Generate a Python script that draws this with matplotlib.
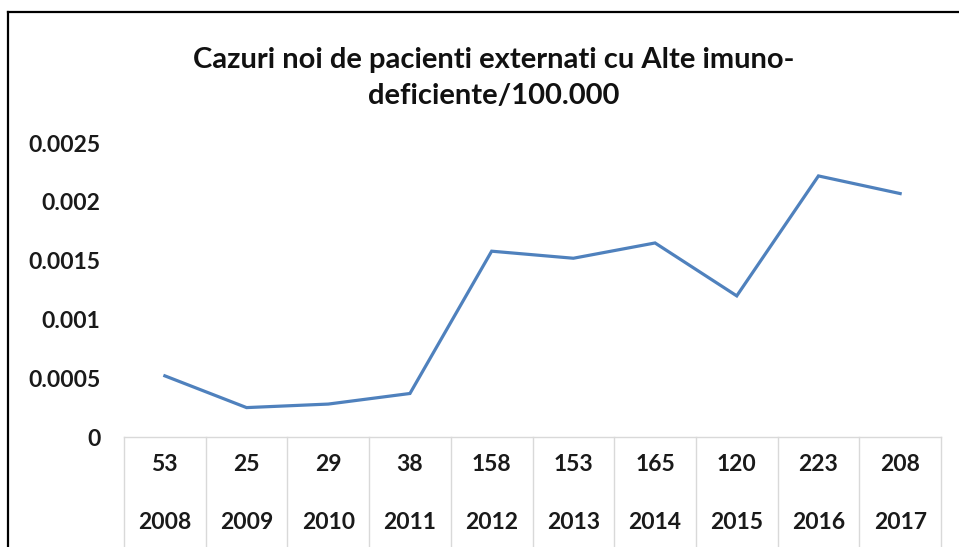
import matplotlib
matplotlib.use("Agg")
import matplotlib.pyplot as plt
from matplotlib.lines import Line2D
import matplotlib.transforms as mtransforms

years = ["2008", "2009", "2010", "2011", "2012", "2013", "2014", "2015", "2016", "2017"]
counts = ["53", "25", "29", "38", "158", "153", "165", "120", "223", "208"]
rates = [0.00052, 0.00025, 0.00028, 0.00037, 0.00158, 0.00152, 0.00165, 0.00120, 0.00222, 0.00207]
yticks = [0, 0.0005, 0.001, 0.0015, 0.002, 0.0025]
yticklabels = ["0", "0.0005", "0.001", "0.0015", "0.002", "0.0025"]
title = "Cazuri noi de pacienti externati cu Alte imuno-\ndeficiente/100.000"

plt.rcParams['font.family'] = ['Lato', 'DejaVu Sans']

W, H = 959, 547
fig = plt.figure(figsize=(W / 100, H / 100), dpi=100)
ax = fig.add_axes([124 / W, 1 - 437 / H, (941 - 124) / W, (437 - 143) / H])

x = list(range(len(years)))
ax.plot(x, rates, color="#4F81BD", lw=2.3, solid_joinstyle="miter")
ax.set_xlim(-0.5, len(years) - 0.5)
ax.set_ylim(0, 0.0025)
ax.set_yticks(yticks)
ax.set_yticklabels(yticklabels, fontsize=16.5, fontweight="bold", color="#1a1a1a")
ax.tick_params(axis="y", length=0, pad=17)
ax.set_xticks([])
for s in ["top", "right", "left"]:
    ax.spines[s].set_visible(False)
ax.spines["bottom"].set_color("#d9d9d9")
ax.spines["bottom"].set_linewidth(1.0)

trans = mtransforms.blended_transform_factory(ax.transData, ax.transAxes)
for i in range(len(years) + 1):
    ax.add_line(Line2D([i - 0.5, i - 0.5], [0, -0.4], transform=trans,
                       color="#d9d9d9", lw=1.0, clip_on=False))
for i in range(len(years)):
    ax.text(i, -0.092, counts[i], transform=trans, ha="center", va="center",
            fontsize=16.5, fontweight="bold", color="#1a1a1a")
    ax.text(i, -0.292, years[i], transform=trans, ha="center", va="center",
            fontsize=16.5, fontweight="bold", color="#1a1a1a")

fig.text(494 / W, 1 - 78 / H, title, ha="center", va="center", fontsize=21,
         fontweight="bold", color="#111111", linespacing=1.5)

# chart-area border (left and top only visible)
fig.add_artist(Line2D([8 / W, 8 / W], [0, 1 - 12 / H], transform=fig.transFigure,
                      color="black", lw=1.6))
fig.add_artist(Line2D([8 / W, 1], [1 - 12 / H, 1 - 12 / H], transform=fig.transFigure,
                      color="black", lw=1.6))

fig.savefig("out.png", dpi=100)
